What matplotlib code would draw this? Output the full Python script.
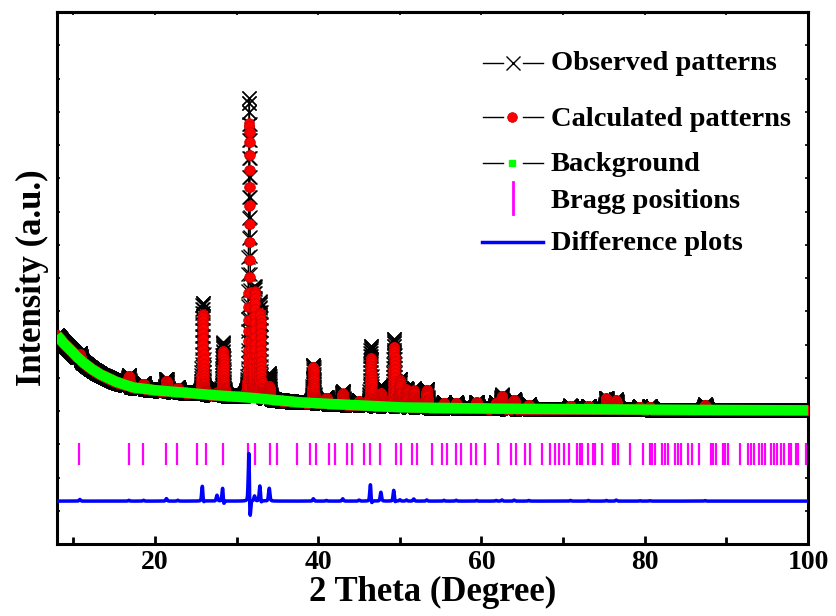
import numpy as np
import matplotlib.pyplot as plt
from matplotlib.lines import Line2D

plt.rcParams['font.family'] = ['Liberation Serif', 'DejaVu Serif']
plt.rcParams['font.weight'] = 'bold'
plt.rcParams['axes.labelweight'] = 'bold'

# background (2 theta, counts)
bg_theta = [8.0, 8.8, 9.6, 10.4, 11.2, 12.2, 13.3, 15.2, 17.3, 20.0, 23.4, 27.0, 31.2, 37.7, 49.9, 60.0, 74.3, 100.0]
bg_counts = [8560, 8080, 7700, 7280, 6920, 6540, 6200, 5760, 5420, 5250, 5120, 4960, 4820, 4520, 4220, 4150, 4100, 4040]

# reflections: position, calculated height, observed height, observed position
peak_pos = [10.8, 16.8, 18.6, 21.4, 22.8, 25.85, 27.6, 28.35, 31.57, 32.2, 32.9, 34.0,
            39.4, 41.0, 43.0, 45.0, 46.45, 47.7, 49.3, 50.0, 50.8, 51.7, 53.3, 55.4,
            56.9, 59.4, 61.8, 62.5, 64.0, 65.8, 70.9, 73.1, 75.3, 76.5, 79.4, 80.6, 87.4]
calc_height = [300, 600, 300, 600, 250, 4800, 150, 2700, 16440, 6300, 5100, 780,
               2160, 360, 660, 240, 2880, 780, 3600, 1620, 1080, 1020, 1080, 300,
               300, 360, 360, 780, 540, 240, 180, 180, 660, 540, 180, 180, 300]
obs_height = [400, 650, 350, 750, 300, 5500, 500, 3200, 18000, 6600, 5800, 1550,
              2300, 400, 800, 300, 3600, 1300, 4100, 1700, 1150, 1150, 1150, 350,
              350, 400, 400, 850, 600, 280, 220, 220, 700, 600, 200, 200, 330]
obs_pos = [10.8, 16.8, 18.6, 21.4, 22.8, 25.84, 27.6, 28.33, 31.555, 32.2, 32.89, 34.0,
           39.4, 41.0, 43.0, 45.0, 46.43, 47.69, 49.29, 50.0, 50.8, 51.7, 53.3, 55.4,
           56.9, 59.4, 61.8, 62.5, 64.0, 65.8, 70.9, 73.1, 75.3, 76.5, 79.4, 80.6, 87.4]

# Bragg reflection markers
bragg_pos = [10.72, 16.86, 18.50, 21.34, 22.69, 25.13, 26.31, 28.39, 31.36, 32.25, 34.04,
             34.98, 37.37, 39.01, 39.74, 41.28, 42.01, 43.53, 44.14, 45.60, 46.34, 47.59,
             49.58, 50.20, 51.46, 52.15, 53.98, 55.13, 55.81, 56.91, 57.52, 58.67, 59.28,
             60.42, 62.04, 63.67, 64.24, 65.30, 65.91, 67.41, 68.44, 69.05, 69.45, 70.15,
             70.67, 71.69, 72.10, 72.30, 73.11, 73.72, 73.93, 74.74, 76.17, 76.40, 76.78,
             78.21, 79.83, 80.65, 80.85, 81.26, 82.07, 82.48, 82.88, 83.70, 84.10, 84.43,
             85.24, 85.73, 86.63, 88.17, 88.40, 88.78, 89.60, 89.85, 90.21, 91.64, 92.65,
             93.06, 93.38, 93.96, 94.36, 94.69, 95.50, 95.83, 96.19, 96.72, 97.05, 97.62,
             97.94, 98.55, 98.76, 99.70]
diff_offset = -1420


def profile(x, pos, height, fwhm=0.2, eta=0.3):
    d = (x - pos) / fwhm
    gauss = np.exp(-4 * np.log(2) * d ** 2)
    lorentz = 1 / (1 + 4 * d ** 2)
    return height * ((1 - eta) * gauss + eta * lorentz)


theta = np.arange(8.0, 100.0, 0.01)
bg = np.interp(theta, bg_theta, bg_counts)
calc = bg.copy()
obs = bg.copy()
for p, hc, ho, po in zip(peak_pos, calc_height, obs_height, obs_pos):
    calc += profile(theta, p, hc)
    obs += profile(theta, po, ho)
diff = obs - calc + diff_offset

fig = plt.figure(figsize=(8.36, 6.16), dpi=100)
ax = fig.add_axes([57 / 836, 1 - 544 / 616, 751 / 836, 532 / 616])

ax.plot(theta, obs, color='black', lw=1.0, marker='x', ms=10.5, mew=1.0, zorder=2)
ax.plot(theta, calc, color='black', lw=0.6, marker='o', ms=7, mfc='red',
        mec='#c80000', mew=0.5, zorder=3)
ax.plot(theta, bg, color='#00ff00', lw=7.5, solid_capstyle='butt', zorder=4)
ax.vlines(bragg_pos, 740, 2060, color='#ff00ff', lw=1.6, zorder=4)
ax.plot(theta, diff, color='blue', lw=2.5, zorder=5)

ax.set_xlim(8.0, 100)
ax.set_ylim(-4000, 28000)
ax.set_xticks([20, 40, 60, 80, 100])
ax.set_xticks([10, 30, 50, 70, 90], minor=True)
ax.set_yticks(np.arange(-4000, 28001, 2000))
ax.set_yticklabels([])
ax.tick_params(axis='x', which='both', direction='in', top=False, width=2,
               labelsize=20, pad=4)
ax.tick_params(axis='x', which='major', length=6)
ax.tick_params(axis='x', which='minor', length=5)
ax.tick_params(axis='y', direction='in', right=True, length=2.5, width=1.2, pad=0)
top = ax.secondary_xaxis('top')
top.set_xticks(np.arange(10, 101, 10))
top.set_xticklabels([])
top.tick_params(direction='in', length=2.5, width=1.2)
for sp in list(ax.spines.values()) + list(top.spines.values()):
    sp.set_linewidth(2.2)

ax.set_xlabel('2 Theta (Degree)', fontsize=25, fontweight='bold', labelpad=1)
ax.set_ylabel('Intensity (a.u.)', fontsize=25, fontweight='bold', labelpad=6)


# legend drawn by hand in figure pixels
def fx(px):
    return px / 836


def fy(py):
    return 1 - py / 616


def seg(x0, x1, y, **kw):
    fig.add_artist(Line2D([fx(x0), fx(x1)], [fy(y), fy(y)], transform=fig.transFigure, **kw))


def mark(x, y, **kw):
    fig.add_artist(Line2D([fx(x)], [fy(y)], transform=fig.transFigure, ls='none', **kw))


for y in (63, 117, 163):
    seg(483, 503, y, color='black', lw=1)
    seg(523, 543, y, color='black', lw=1)
mark(513, 63, marker='x', ms=10, mew=1, color='black')
mark(512, 117, marker='o', ms=7, mfc='red', mec='#c80000', mew=0.5)
mark(512, 163, marker='s', ms=5, mfc='#00ff00', mec='#00ff00')
fig.add_artist(Line2D([fx(513), fx(513)], [fy(182), fy(214)], transform=fig.transFigure,
                      color='#ff00ff', lw=2))
seg(482, 543, 242, color='blue', lw=2.5)

labels = ['Observed patterns', 'Calculated patterns', 'Background', 'Bragg positions',
          'Difference plots']
baselines = [70, 126, 171, 208, 250]
for lab, b in zip(labels, baselines):
    fig.text(fx(551), fy(b), lab, fontsize=20.5, fontweight='bold', va='baseline', ha='left')

fig.savefig('out.png', dpi=100)
